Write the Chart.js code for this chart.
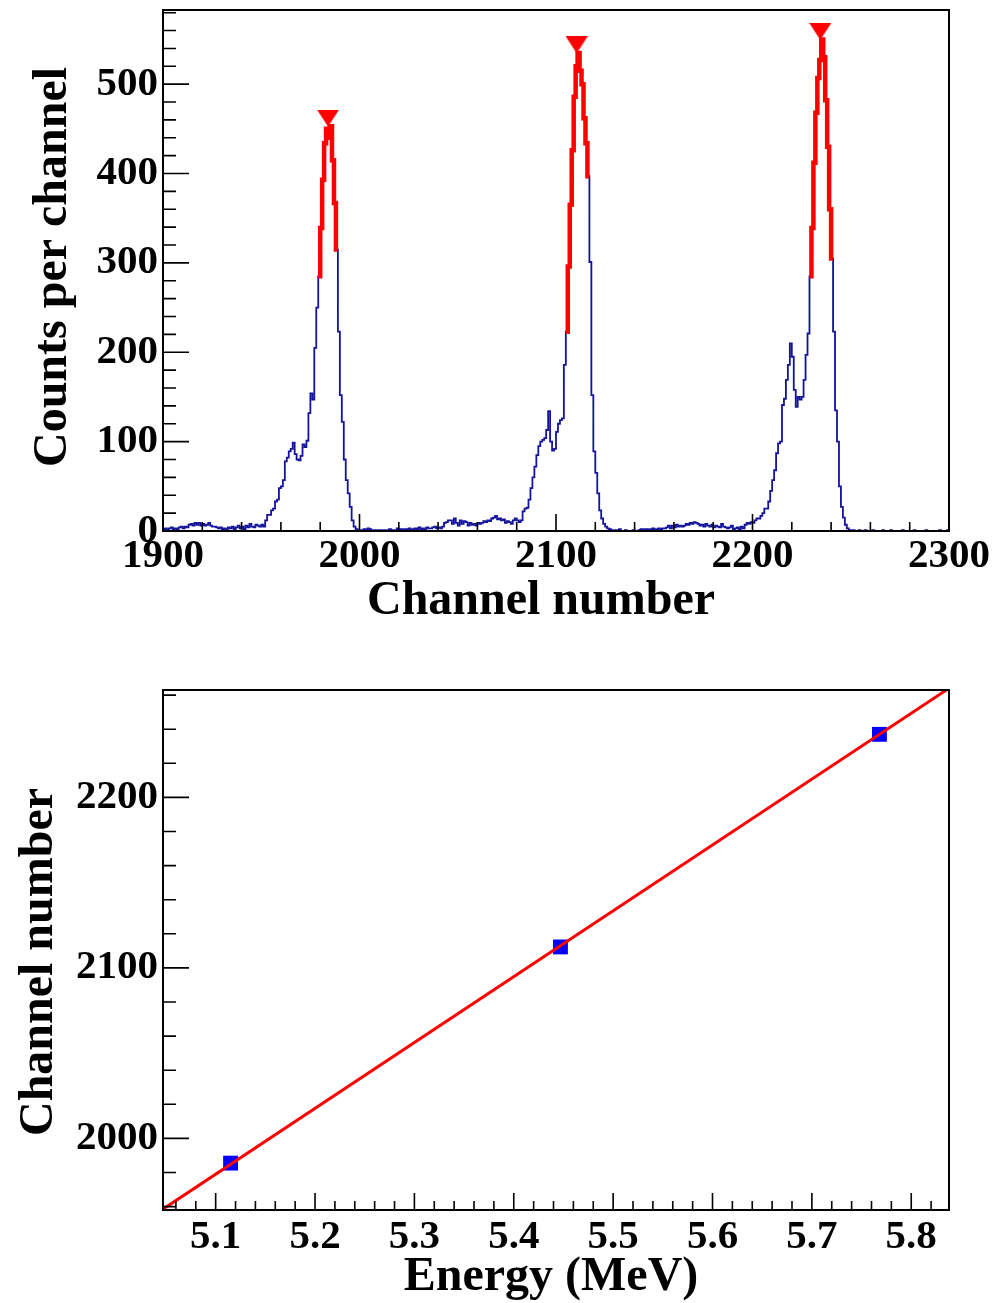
<!DOCTYPE html>
<html>
<head>
<meta charset="utf-8">
<script src="https://cdn.jsdelivr.net/npm/chart.js@4.4.1/dist/chart.umd.min.js"></script>
<style>
  html, body { margin: 0; padding: 0; background: #fff; }
  body { width: 997px; height: 1303px; position: relative; overflow: hidden; }
  #spectrum-wrap { position: absolute; left: 0; top: 0; width: 997px; height: 640px; }
  #calib-wrap { position: absolute; left: 0; top: 640px; width: 997px; height: 663px; }
</style>
</head>
<body>
<div id="spectrum-wrap"><canvas id="spectrumChart"></canvas></div>
<div id="calib-wrap"><canvas id="calibChart"></canvas></div>
<script>
// ---- spectrum (top panel) ----
const firstChannel = 1900;
const counts = [
  2, 3, 1, 3, 4, 2, 3, 2, 4, 5, 3, 5, 4, 7, 8, 6, 9, 7, 9, 6,
  8, 6, 7, 9, 6, 5, 5, 4, 3, 4, 2, 3, 1, 4, 3, 5, 2, 4, 6, 3,
  5, 2, 6, 4, 8, 5, 4, 7, 6, 5, 7, 5, 12, 18, 18, 23, 25, 33, 35, 48,
  50, 57, 78, 82, 89, 92, 99, 86, 80, 79, 84, 97, 94, 101, 132, 154, 147, 205, 250, 285,
  339, 393, 434, 450, 440, 453, 415, 367, 315, 223, 152, 122, 80, 57, 42, 27, 12, 5, 2, 1,
  1, 0, 2, 1, 3, 2, 0, 1, 0, 1, 1, 0, 1, 1, 1, 2, 1, 1, 1, 3,
  1, 2, 1, 2, 2, 3, 1, 2, 3, 2, 4, 2, 3, 1, 4, 3, 3, 4, 5, 3,
  4, 3, 5, 9, 10, 12, 12, 8, 14, 9, 6, 12, 8, 11, 10, 6, 9, 7, 8, 6,
  9, 8, 9, 11, 10, 12, 11, 14, 15, 17, 13, 14, 12, 13, 9, 11, 10, 8, 12, 14,
  12, 10, 12, 22, 25, 26, 35, 48, 60, 72, 85, 95, 100, 102, 104, 113, 134, 100, 90, 92,
  111, 120, 124, 126, 186, 223, 296, 365, 426, 486, 520, 535, 515, 500, 462, 434, 397, 301, 152, 89,
  65, 42, 23, 14, 8, 5, 3, 2, 1, 0, 1, 0, 2, 0, 0, 1, 0, 0, 0, 1,
  0, 0, 1, 2, 1, 2, 2, 1, 2, 3, 2, 2, 3, 2, 3, 3, 4, 6, 3, 6,
  4, 7, 5, 6, 5, 6, 8, 7, 9, 8, 10, 9, 8, 6, 7, 5, 8, 6, 5, 7,
  4, 6, 5, 4, 8, 5, 4, 3, 4, 6, 2, 3, 4, 2, 5, 3, 7, 9, 8, 10,
  9, 12, 14, 14, 17, 20, 25, 25, 33, 45, 57, 68, 87, 98, 100, 141, 148, 169, 186, 210,
  195, 158, 139, 150, 147, 150, 169, 197, 221, 285, 339, 412, 468, 507, 527, 550, 530, 482, 430, 360,
  305, 223, 135, 100, 50, 27, 15, 7, 3, 1, 0, 1, 0, 0, 1, 0, 0, 1, 0, 0,
  0, 1, 0, 0, 0, 0, 1, 0, 0, 0, 1, 0, 0, 0, 0, 0, 1, 0, 0, 0,
  0, 0, 1, 0, 0, 0, 0, 0, 1, 0, 0, 0, 0, 0, 0, 1, 0, 0, 0, 1,
];
// fitted regions (first channel, channel after last)
const fitStart = [1979, 2105, 2229];
const fitEnd = [1989, 2117, 2241];
// found peaks (marker positions)
const peakChannels = [1984, 2110.5, 2234.5];
const peakMarkerCounts = [462, 544, 559];
const spectrumXTicks = [1900, 2000, 2100, 2200, 2300];
const spectrumYTicks = [0, 100, 200, 300, 400, 500];

// ---- calibration (bottom panel) ----
const energies = [5.115, 5.447, 5.768];
const centroids = [1985.5, 2112.3, 2237];
const fitLineEnergy = [5.047, 5.838];
const fitLineChannel = [1958.5, 2264];
const calibXTicks = [5.1, 5.2, 5.3, 5.4, 5.5, 5.6, 5.7, 5.8];
const calibYTicks = [2000, 2100, 2200];

const FONT = "'Liberation Serif', 'Times New Roman', serif";
const tickFont = { family: FONT, size: 41, weight: "bold" };

// histogram as stepped points on the lower bin edges
function histPoints(from, to) {
  const pts = [];
  for (let ch = from; ch < to; ch++) {
    pts.push({ x: ch, y: counts[ch - firstChannel] });
  }
  pts.push({ x: to, y: counts[to - 1 - firstChannel] });
  return pts;
}

function triangleDown(w, h, color) {
  const c = document.createElement("canvas");
  c.width = w;
  c.height = h;
  const g = c.getContext("2d");
  g.fillStyle = color;
  g.beginPath();
  g.moveTo(0, 0);
  g.lineTo(w, 0);
  g.lineTo(w / 2, h);
  g.closePath();
  g.fill();
  return c;
}

function forEachTick(min, max, minor, major, fn) {
  const k0 = Math.ceil(min / minor - 1e-6);
  for (let k = k0; k * minor <= max + 1e-9; k++) {
    const v = k * minor;
    const r = v / major;
    fn(v, Math.abs(r - Math.round(r)) < 1e-6);
  }
}

// ROOT-like frame: inner ticks, box, axis titles
const rootFrame = {
  id: "rootFrame",
  afterDatasetsDraw(chart, args, opts) {
    const { ctx, chartArea: a } = chart;
    const xs = chart.scales.x;
    const ys = chart.scales.y;
    ctx.save();
    ctx.strokeStyle = "#000";
    ctx.lineWidth = 1.6;
    ctx.beginPath();
    forEachTick(xs.min, xs.max, opts.xMinor, opts.xMajor, (v, major) => {
      const px = xs.getPixelForValue(v);
      ctx.moveTo(px, a.bottom);
      ctx.lineTo(px, a.bottom - (major ? 17 : 9));
    });
    forEachTick(ys.min, ys.max, opts.yMinor, opts.yMajor, (v, major) => {
      const py = ys.getPixelForValue(v);
      ctx.moveTo(a.left, py);
      ctx.lineTo(a.left + (major ? 26 : 13), py);
    });
    ctx.stroke();
    ctx.lineWidth = 2;
    ctx.strokeRect(a.left, a.top, a.width, a.height);

    ctx.fillStyle = "#000";
    ctx.font = "bold 48px " + FONT;
    ctx.textAlign = "center";
    ctx.textBaseline = "alphabetic";
    ctx.fillText(opts.xTitle, opts.xTitlePos[0], opts.xTitlePos[1]);
    ctx.translate(opts.yTitlePos[0], opts.yTitlePos[1]);
    ctx.rotate(-Math.PI / 2);
    ctx.fillText(opts.yTitle, 0, 0);
    ctx.restore();
  },
};

function fixedAxes(xHeight, yWidth) {
  return {
    x: (scale) => {
      scale.height = xHeight;
      scale.paddingLeft = 0;
      scale.paddingRight = 0;
    },
    y: (scale) => {
      scale.width = yWidth;
      scale.paddingTop = 0;
      scale.paddingBottom = 0;
    },
  };
}

// ---------- top chart ----------
const topFit = fixedAxes(109, 163);
const fitDatasets = fitStart.map((lo, i) => ({
  type: "line",
  data: histPoints(lo, fitEnd[i]),
  stepped: true,
  borderColor: "#ff0000",
  borderWidth: 4.5,
  pointRadius: 0,
  order: 1,
}));

new Chart(document.getElementById("spectrumChart"), {
  type: "line",
  data: {
    datasets: [
      {
        data: histPoints(firstChannel, firstChannel + counts.length),
        stepped: true,
        borderColor: "#13139c",
        borderWidth: 1.8,
        pointRadius: 0,
        order: 2,
      },
      ...fitDatasets,
      {
        type: "scatter",
        data: peakChannels.map((ch, i) => ({ x: ch, y: peakMarkerCounts[i] })),
        pointStyle: triangleDown(22, 17, "#ff0000"),
        order: 0,
      },
    ],
  },
  options: {
    responsive: true,
    maintainAspectRatio: false,
    animation: false,
    devicePixelRatio: 1,
    layout: { padding: { top: 10, right: 48, left: 0, bottom: 0 } },
    plugins: {
      legend: { display: false },
      tooltip: { enabled: false },
      rootFrame: {
        xMinor: 20, xMajor: 100, yMinor: 20, yMajor: 100,
        xTitle: "Channel number", xTitlePos: [541, 614],
        yTitle: "Counts per channel", yTitlePos: [66, 267],
      },
    },
    scales: {
      x: {
        type: "linear",
        min: 1900,
        max: 2300,
        grid: { display: false, drawTicks: false },
        border: { display: false },
        afterBuildTicks: (s) => { s.ticks = spectrumXTicks.map((v) => ({ value: v })); },
        afterFit: topFit.x,
        ticks: { font: tickFont, color: "#000", padding: 1, maxRotation: 0, autoSkip: false, callback: (v) => String(v) },
      },
      y: {
        min: 0,
        max: 583,
        grid: { display: false, drawTicks: false },
        border: { display: false },
        afterBuildTicks: (s) => { s.ticks = spectrumYTicks.map((v) => ({ value: v })); },
        afterFit: topFit.y,
        ticks: { font: tickFont, color: "#000", padding: 5, autoSkip: false, callback: (v) => String(v) },
      },
    },
  },
  plugins: [rootFrame],
});

// ---------- bottom chart ----------
const botFit = fixedAxes(93, 163);

new Chart(document.getElementById("calibChart"), {
  type: "scatter",
  data: {
    datasets: [
      {
        type: "line",
        data: fitLineEnergy.map((e, i) => ({ x: e, y: fitLineChannel[i] })),
        borderColor: "#ff0000",
        borderWidth: 3,
        pointRadius: 0,
        order: 0,
      },
      {
        data: energies.map((e, i) => ({ x: e, y: centroids[i] })),
        pointStyle: "rect",
        pointRadius: 10.5,
        backgroundColor: "#0000ff",
        borderWidth: 0,
        order: 1,
      },
    ],
  },
  options: {
    responsive: true,
    maintainAspectRatio: false,
    animation: false,
    devicePixelRatio: 1,
    layout: { padding: { top: 50, right: 48, left: 0, bottom: 0 } },
    plugins: {
      legend: { display: false },
      tooltip: { enabled: false },
      rootFrame: {
        xMinor: 0.02, xMajor: 0.1, yMinor: 20, yMajor: 100,
        xTitle: "Energy (MeV)", xTitlePos: [551, 650],
        yTitle: "Channel number", yTitlePos: [52, 322],
      },
    },
    scales: {
      x: {
        type: "linear",
        min: 5.047,
        max: 5.838,
        grid: { display: false, drawTicks: false },
        border: { display: false },
        afterBuildTicks: (s) => { s.ticks = calibXTicks.map((v) => ({ value: v })); },
        afterFit: botFit.x,
        ticks: { font: tickFont, color: "#000", padding: 3, maxRotation: 0, autoSkip: false, callback: (v) => v.toFixed(1) },
      },
      y: {
        min: 1958,
        max: 2263,
        grid: { display: false, drawTicks: false },
        border: { display: false },
        afterBuildTicks: (s) => { s.ticks = calibYTicks.map((v) => ({ value: v })); },
        afterFit: botFit.y,
        ticks: { font: tickFont, color: "#000", padding: 5, autoSkip: false, callback: (v) => String(v) },
      },
    },
  },
  plugins: [rootFrame],
});
</script>
</body>
</html>
